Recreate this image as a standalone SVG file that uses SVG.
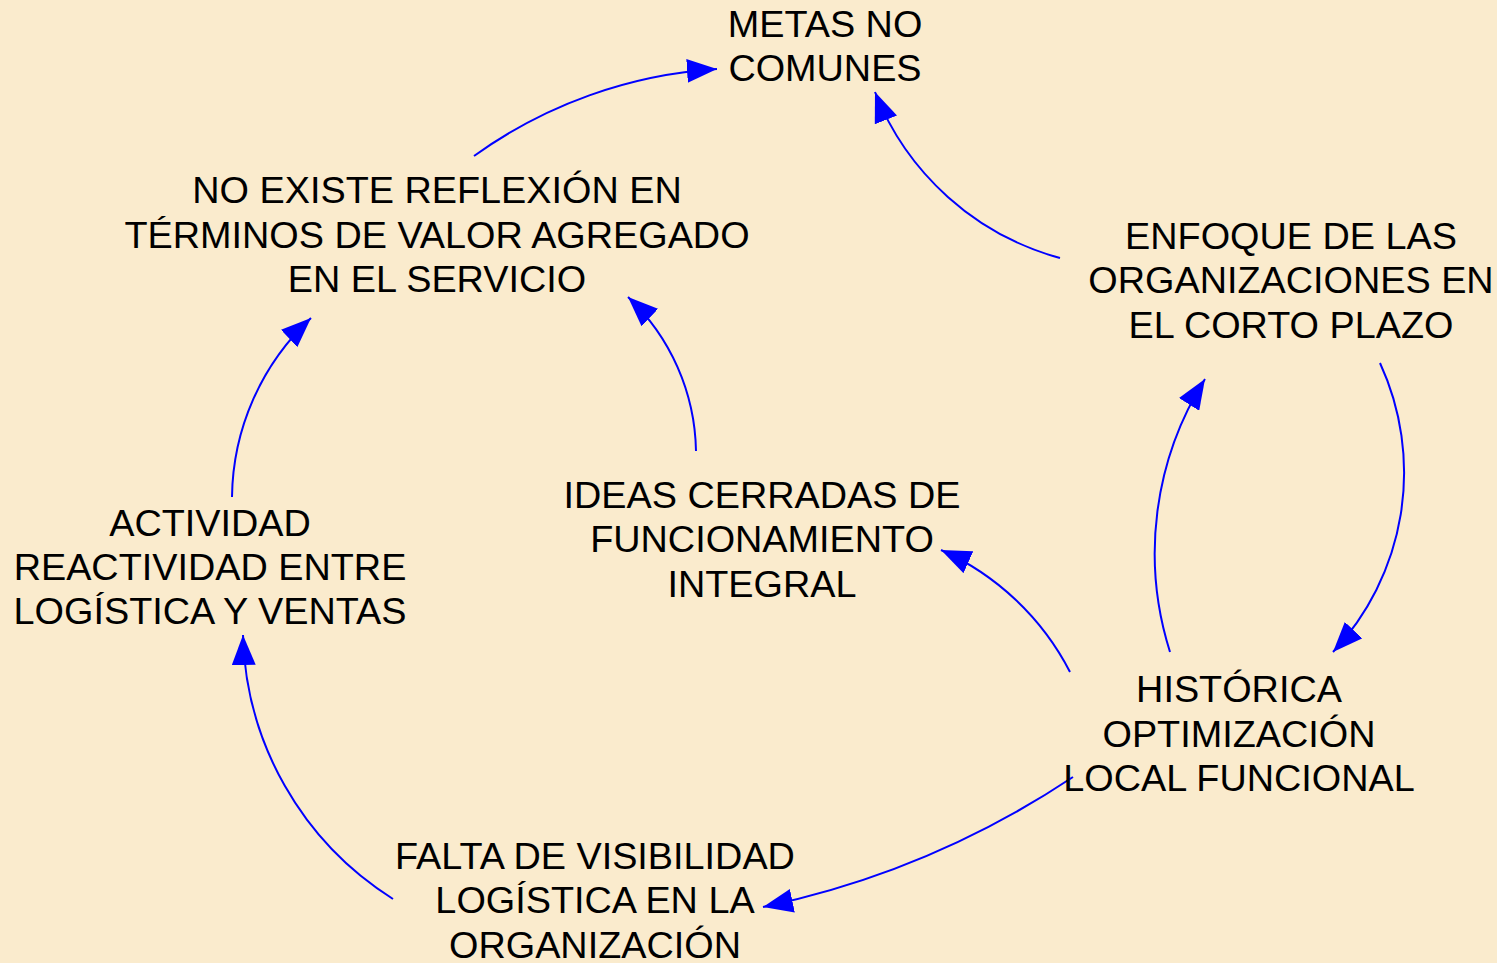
<svg xmlns="http://www.w3.org/2000/svg" width="1497" height="963" viewBox="0 0 1497 963">
<style>
  .lbl { font-family: "Liberation Sans", Arial, sans-serif; font-size: 37.8px; fill: #000; text-anchor: middle; }
  .conn { fill: none; stroke: #0000FF; stroke-width: 2; marker-end: url(#ah); }
</style>
<defs>
  <marker id="ah" markerUnits="userSpaceOnUse" markerWidth="30" markerHeight="24" viewBox="0 0 30 24" refX="30" refY="12" orient="auto">
    <path d="M0,0 L30,12 L0,24 z" fill="#0000FF"/>
  </marker>
</defs>
<rect x="0" y="0" width="1497" height="963" fill="#FAEBCD"/>
<g id="connectors">
  <path class="conn" d="M474,156 A466,466 0 0 1 717,69"/>
  <path class="conn" d="M1060,258 A277,277 0 0 1 875,92"/>
  <path class="conn" d="M1380,363 A261.7,261.7 0 0 1 1333,652"/>
  <path class="conn" d="M1170,652 A327,327 0 0 1 1205,379"/>
  <path class="conn" d="M1070,672 A268,268 0 0 0 941,550"/>
  <path class="conn" d="M1073,777 A888,888 0 0 1 763,907"/>
  <path class="conn" d="M393,899 A321,321 0 0 1 243,635"/>
  <path class="conn" d="M232,497 A249,249 0 0 1 311,318"/>
  <path class="conn" d="M696,451 A217,217 0 0 0 628,297"/>
</g>
<g id="n-metas">
  <text class="lbl" x="825" y="36.7">METAS NO</text>
  <text class="lbl" x="825" y="81">COMUNES</text>
</g>
<g id="n-reflexion">
  <text class="lbl" x="437" y="203.3">NO EXISTE REFLEXIÓN EN</text>
  <text class="lbl" x="437" y="247.6">TÉRMINOS DE VALOR AGREGADO</text>
  <text class="lbl" x="437" y="291.9">EN EL SERVICIO</text>
</g>
<g id="n-enfoque">
  <text class="lbl" x="1291" y="249">ENFOQUE DE LAS</text>
  <text class="lbl" x="1291" y="293.3">ORGANIZACIONES EN</text>
  <text class="lbl" x="1291" y="337.6">EL CORTO PLAZO</text>
</g>
<g id="n-ideas">
  <text class="lbl" x="762" y="507.5">IDEAS CERRADAS DE</text>
  <text class="lbl" x="762" y="552">FUNCIONAMIENTO</text>
  <text class="lbl" x="762" y="596.5">INTEGRAL</text>
</g>
<g id="n-actividad">
  <text class="lbl" x="210" y="535.5">ACTIVIDAD</text>
  <text class="lbl" x="210" y="579.5">REACTIVIDAD ENTRE</text>
  <text class="lbl" x="210" y="623.5">LOGÍSTICA Y VENTAS</text>
</g>
<g id="n-historica">
  <text class="lbl" x="1239" y="702">HISTÓRICA</text>
  <text class="lbl" x="1239" y="746.5">OPTIMIZACIÓN</text>
  <text class="lbl" x="1239" y="791">LOCAL FUNCIONAL</text>
</g>
<g id="n-falta">
  <text class="lbl" x="595" y="868.5">FALTA DE VISIBILIDAD</text>
  <text class="lbl" x="595" y="913">LOGÍSTICA EN LA</text>
  <text class="lbl" x="595" y="957.5">ORGANIZACIÓN</text>
</g>
</svg>
